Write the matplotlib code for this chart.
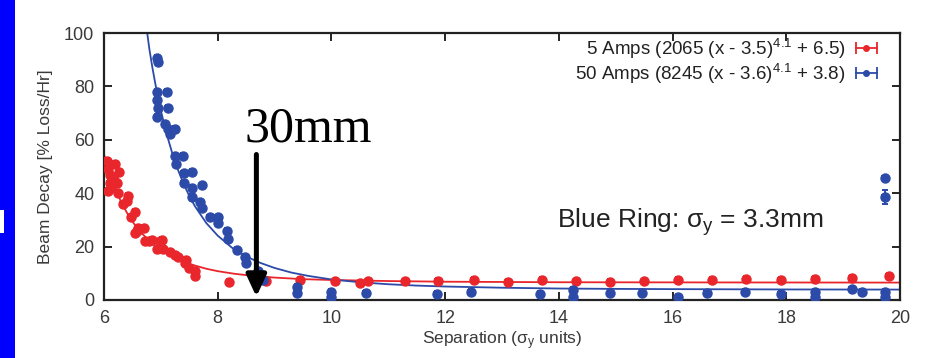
import matplotlib
matplotlib.use("Agg")
import matplotlib.pyplot as plt
from matplotlib.lines import Line2D
from matplotlib.patches import Rectangle
from matplotlib.legend_handler import HandlerLine2D, HandlerTuple

plt.rcParams['font.family'] = ['Liberation Sans', 'DejaVu Sans']
plt.rcParams['mathtext.default'] = 'regular'

# ---- data ----
red_x = [6.05, 6.07, 6.1, 6.07, 6.2, 6.23, 6.25, 6.1, 6.18, 6.33, 6.43, 6.55, 6.47,
         6.6, 6.7, 6.55, 6.72, 6.8, 6.98, 6.93, 7.04, 7.16, 7.25, 7.3, 7.45, 7.42,
         7.5, 7.6, 7.6, 6.12, 6.26, 6.4, 6.58, 6.84, 7.02,
         8.2, 8.85, 9.45, 10.06, 10.5, 10.65, 11.3, 11.87, 12.5, 13.1, 13.7, 14.3,
         14.9, 15.5, 16.1, 16.7, 17.3, 17.9, 18.5, 19.15, 19.8]
red_y = [52, 49, 44, 41, 51, 44, 40, 47, 45, 36, 39, 33, 31,
         27, 27, 25, 22, 22, 22, 19, 19, 18, 17, 16, 15, 14,
         12, 11, 9, 42, 48, 37, 26, 22.5, 22.5,
         6.8, 7, 7.5, 7, 6.3, 7, 7, 7.1, 7.5, 6.7, 7.5, 7,
         6.7, 7, 7.5, 7.5, 7.9, 7.5, 7.9, 8.2, 9]

blue_x = [6.93, 6.95, 6.93, 7.1, 6.93, 6.95, 6.93, 7.12, 7.07, 7.25, 7.12, 7.16,
          7.25, 7.39, 7.27, 7.4, 7.55, 7.4, 7.55, 7.72, 7.55, 7.69, 7.72, 7.86,
          8.0, 8.0, 8.16, 8.18, 8.34, 8.48, 8.5, 8.7, 8.8,
          9.4, 9.4, 10.0, 10.0, 10.6, 11.85, 12.45, 13.67, 14.25, 14.25, 14.9,
          15.46, 16.1, 16.6, 17.27, 17.9, 18.5, 18.5, 19.15, 19.33, 19.73, 19.73,
          19.73, 19.73]
blue_y = [90.6, 89, 78, 78, 75, 72, 68.5, 72, 66, 64, 64, 62,
          54, 54, 51, 47.5, 48, 44, 42, 43, 38.6, 36.7, 34.5, 31,
          31, 29, 26, 23, 18.7, 16, 13.8, 11, 7.5,
          5, 2.6, 3, 1.2, 2.6, 2.2, 3, 2.2, 3.7, 1.2, 2.6,
          2.6, 1.2, 2.6, 3, 2.2, 3, 1.2, 4, 3, 3, 1.2,
          45.7, 38.6]
blue_yerr = [1.0] * 55 + [0.8, 2.5]
red_yerr = 1.0
xerr_all = 0.04

# fitted curves
red_fit_x = [6.0, 6.1, 6.2, 6.3, 6.4, 6.5, 6.6, 6.8, 7.0, 7.2, 7.4, 7.6, 7.8, 8.0,
             8.3, 8.6, 9.0, 9.5, 10.0, 11.0, 12.0, 14.0, 16.0, 20.0]
red_fit_y = [54.5, 47.5, 41.7, 36.8, 32.8, 29.4, 26.5, 22.0, 18.6, 16.2, 14.3, 12.9,
             11.7, 10.8, 9.8, 9.1, 8.4, 7.8, 7.5, 7.1, 6.85, 6.65, 6.6, 6.52]
blue_fit_x = [6.76, 6.8, 6.85, 6.9, 6.95, 7.0, 7.1, 7.2, 7.3, 7.4, 7.5, 7.6, 7.8,
              8.0, 8.25, 8.5, 8.75, 9.0, 9.3, 9.6, 10.0, 10.5, 11.0, 11.5, 12.0,
              13.0, 14.0, 15.0, 16.0, 18.0, 20.0]
blue_fit_y = [100, 93.7, 87.2, 81.3, 75.8, 70.9, 62.3, 55.0, 48.8, 43.5, 39.0, 35.1,
              28.8, 24.1, 19.6, 16.3, 13.9, 12.0, 10.25, 9.0, 7.7, 6.65, 5.9, 5.4,
              5.05, 4.6, 4.3, 4.16, 4.07, 3.95, 3.9]

red_label = '5 Amps (2065 (x - 3.5)$^{4.1}$ + 6.5)'
blue_label = '50 Amps (8245 (x - 3.6)$^{4.1}$ + 3.8)'
x_ticks = [6, 8, 10, 12, 14, 16, 18, 20]
y_ticks = [0, 20, 40, 60, 80, 100]

RED = '#e8262b'
BLUE = '#2c4aa8'
GREY = '#3a3a3a'

fig = plt.figure(figsize=(9.25, 3.58), dpi=100)
fig.patch.set_facecolor('white')
fig.patches.append(Rectangle((0, 0), 15 / 925, 1, transform=fig.transFigure,
                             facecolor='#0000ff', edgecolor='none', zorder=0))
fig.patches.append(Rectangle((0, (358 - 233) / 358), 4 / 925, 23 / 358,
                             transform=fig.transFigure,
                             facecolor='white', edgecolor='none', zorder=1))

ax = fig.add_axes([104 / 925, 58 / 358, 796 / 925, 267 / 358])

ax.errorbar(red_x, red_y, xerr=xerr_all, yerr=red_yerr, fmt='o', color=RED,
            ms=6.5, elinewidth=1.4, capsize=2.5, capthick=1.4, zorder=3)
ax.errorbar(blue_x, blue_y, xerr=xerr_all, yerr=blue_yerr, fmt='o', color=BLUE,
            ms=6.5, elinewidth=1.4, capsize=2.5, capthick=1.4, zorder=3)
ax.plot(red_fit_x, red_fit_y, color=RED, lw=1.3, zorder=2)
ax.plot(blue_fit_x, blue_fit_y, color=BLUE, lw=1.3, zorder=2)

ax.set_xlim(6, 20)
ax.set_ylim(0, 100)
ax.set_xticks(x_ticks)
ax.set_yticks(y_ticks)
ax.tick_params(direction='in', length=6, width=1.2, top=True, right=True,
               labelsize=13, labelcolor=GREY, pad=7)
for s in ax.spines.values():
    s.set_linewidth(1.6)
    s.set_color('#222222')

ax.set_xlabel('Separation (σ$_{y}$ units)', fontsize=12.5, color=GREY, labelpad=2)
ax.set_ylabel('Beam Decay [% Loss/Hr]', fontsize=12.5, color=GREY, labelpad=8)

# legend
handles = []
hmap = {}
for c in (RED, BLUE):
    capline = Line2D([], [], color=c, lw=1.3, marker='|', ms=8, mew=1.3)
    dot = Line2D([], [], color=c, marker='o', ms=4, ls='none')
    hmap[capline] = HandlerLine2D(numpoints=2, marker_pad=0.0)
    hmap[dot] = HandlerLine2D(numpoints=1)
    handles.append((capline, dot))
hmap[tuple] = HandlerTuple(ndivide=1)
leg = ax.legend(handles, [red_label, blue_label], handler_map=hmap,
                loc='upper right', bbox_to_anchor=(0.98, 1.015),
                frameon=False, markerfirst=False, fontsize=13.5,
                handlelength=1.1, handletextpad=0.55, labelspacing=0.05,
                borderaxespad=0.0)
for t in leg.get_texts():
    t.set_color('#222222')

ax.text(13.97, 27, 'Blue Ring: σ$_{y}$ = 3.3mm', fontsize=19, color='#222222',
        va='baseline', ha='left')
ax.text(8.47, 59.5, '30mm', fontsize=36, family=['Liberation Serif', 'DejaVu Serif'],
        color='black', va='baseline', ha='left')
ax.annotate('', xy=(8.68, 1.2), xytext=(8.68, 54.5),
            arrowprops=dict(arrowstyle='-|>,head_length=1.3,head_width=0.6',
                            lw=3.6, color='black', shrinkA=0, shrinkB=0),
            zorder=5)

fig.savefig('out.png', dpi=100)
